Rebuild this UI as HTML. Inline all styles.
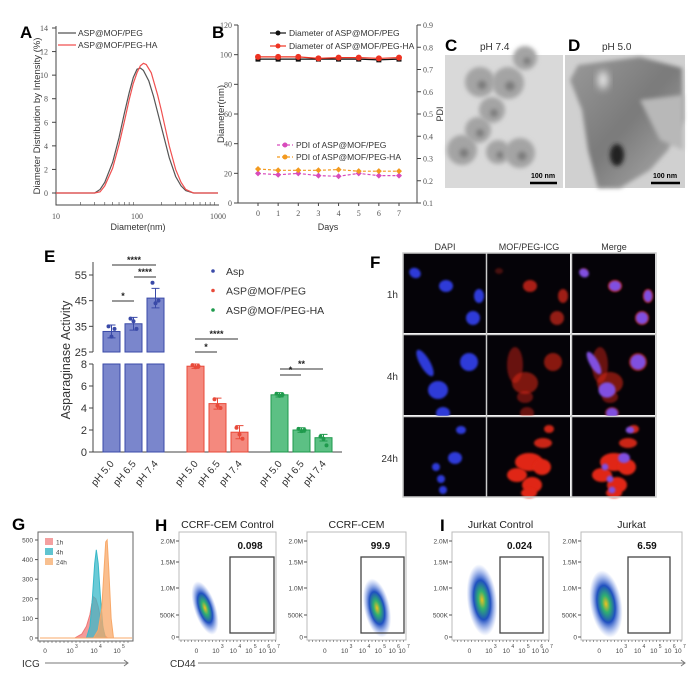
<!DOCTYPE html>
<html><head><meta charset="utf-8"><style>
html,body{margin:0;padding:0;background:#fff}
svg{display:block;font-family:"Liberation Sans",sans-serif}
</style></head><body>
<svg id="fig" width="700" height="683" viewBox="0 0 700 683" xmlns="http://www.w3.org/2000/svg">
<defs>
<filter id="bl2" x="-50%" y="-50%" width="200%" height="200%"><feGaussianBlur stdDeviation="2"/></filter>
<filter id="bl1" x="-50%" y="-50%" width="200%" height="200%"><feGaussianBlur stdDeviation="1"/></filter>
<filter id="bl4" x="-50%" y="-50%" width="200%" height="200%"><feGaussianBlur stdDeviation="4"/></filter>
<radialGradient id="flow"><stop offset="0" stop-color="#f0c020"/><stop offset="0.25" stop-color="#30b070"/><stop offset="0.55" stop-color="#2050c0"/><stop offset="1" stop-color="#7090e8" stop-opacity="0"/></radialGradient>
<linearGradient id="dbg" x1="0" y1="0" x2="1" y2="1"><stop offset="0" stop-color="#9a9a9a"/><stop offset="0.5" stop-color="#7a7a7a"/><stop offset="1" stop-color="#b0b0b0"/></linearGradient>
</defs>
</svg>
<script>
// ---------- DATA ----------
const aDiamPEG   = [10,20,30,35,40,50,60,70,80,90,100,110,120,140,160,200,250,300,350,400,500,1000];
const aIntPEG    = [0,0,0,0.3,0.9,2.6,4.7,6.8,8.5,9.8,10.5,10.6,10.4,9.5,8.2,5.6,3.0,1.4,0.6,0.2,0,0];
const aDiamHA    = [10,20,30,35,40,50,60,70,80,90,100,110,120,130,150,180,200,250,300,350,400,500,1000];
const aIntHA     = [0,0,0,0.1,0.6,2.1,4.1,6.1,7.9,9.3,10.2,10.8,11.0,10.9,10.2,8.3,7.0,4.0,2.0,0.9,0.3,0,0];
const aYTicks    = [0,2,4,6,8,10,12,14];
const aXTicks    = [10,100,1000];
const bDays      = [0,1,2,3,4,5,6,7];
const bDiamPEG   = [97,97,97,97,97,97,96.5,97];
const bDiamHA    = [98.5,98.5,98.5,97.5,98,98,97.5,98];
const bPdiPEG    = [0.233,0.227,0.233,0.223,0.22,0.233,0.223,0.223];
const bPdiHA     = [0.253,0.247,0.247,0.247,0.25,0.243,0.243,0.243];
const bLeftTicks = [0,20,40,60,80,100,120];
const bRightTicks= [0.1,0.2,0.3,0.4,0.5,0.6,0.7,0.8,0.9];
const eGroups    = ["Asp","ASP@MOF/PEG","ASP@MOF/PEG-HA"];
const eLabels    = ["pH 5.0","pH 6.5","pH 7.4"];
const eAsp       = [33,36,46];
const ePEG       = [7.8,4.4,1.8];
const eHA        = [5.2,2.0,1.3];
const eAspSd     = [2.5,2.5,3.8];
const ePEGSd     = [0.2,0.5,0.6];
const eHASd      = [0.2,0.2,0.3];
const eAspPts    = [[35,31,34],[38,37,34],[52,44,45]];
const ePEGPts    = [[7.9,7.7,7.8],[4.8,4.2,4.0],[2.2,1.6,1.2]];
const eHAPts     = [[5.3,5.1,5.2],[2.1,1.9,2.0],[1.4,1.2,0.6]];
const eUpperTicks= [25,35,45,55];
const eLowerTicks= [0,2,4,6,8];
const gLog1h  = [3.2,3.5,3.7,3.85,3.95,4.0,4.1,4.2,4.3,4.4,4.5,4.6];
const gCnt1h  = [0,20,60,120,190,210,200,160,100,50,10,0];
const gLog4h  = [3.7,3.85,3.95,4.05,4.12,4.2,4.3,4.4,4.5];
const gCnt4h  = [0,60,200,380,450,380,200,60,0];
const gLog24h = [4.0,4.2,4.35,4.45,4.52,4.58,4.65,4.75,4.85];
const gCnt24h = [0,40,150,350,490,500,350,100,0];
const gYTicks = [0,100,200,300,400,500];
const flowTitles = ["CCRF-CEM  Control","CCRF-CEM","Jurkat  Control","Jurkat"];
const flowValues = ["0.098","99.9","0.024","6.59"];
const flowYTicks = ["0","500K","1.0M","1.5M","2.0M"];

const NS="http://www.w3.org/2000/svg";
const svg=document.getElementById('fig');
function mk(tag,attrs,parent){const e=document.createElementNS(NS,tag);for(const k in attrs)e.setAttribute(k,attrs[k]);(parent||svg).appendChild(e);return e;}
function txt(s,x,y,size,opts,parent){const o=Object.assign({x:x,y:y,'font-size':size,fill:'#222'},opts||{});const t=mk('text',o,parent);t.textContent=s;return t;}
function lin(d0,d1,r0,r1){return v=>r0+(v-d0)*(r1-r0)/(d1-d0);}
let el;

// ---------- PANEL A ----------
const gA=mk('g',{});


const axL=v=>56+(Math.log10(v)-1)*81, ayS=lin(0,14,193,28);
el=txt('A',20,38,17,{'font-weight':'bold',fill:'#000'},gA);


el=mk('path',{d:'M56 26V205H219',fill:'none',stroke:'#444','stroke-width':1},gA);


aYTicks.forEach(v=>{mk('line',{x1:52,x2:56,y1:ayS(v),y2:ayS(v),stroke:'#444'},gA);
 el=txt(String(v),48,ayS(v)+3,8,{'text-anchor':'end','font-family':'Liberation Serif',fill:'#555'},gA);
 
 });
aXTicks.forEach(v=>{el=txt(String(v),axL(v),219,8,{'text-anchor':'middle','font-family':'Liberation Serif',fill:'#555'},gA);
 
 });
for(let d=1;d<3;d++)for(let m=2;m<10;m++){const x=axL(m*Math.pow(10,d));mk('line',{x1:x,x2:x,y1:205,y2:202,stroke:'#444','stroke-width':0.6},gA);}
el=txt('Diameter(nm)',138,230,9,{'text-anchor':'middle',fill:'#333'},gA);


el=txt('Diameter Distribution by Intensity (%)',0,0,9.5,{'text-anchor':'middle',fill:'#333',transform:'translate(40,116) rotate(-90)'},gA);


el=mk('polyline',{points:aDiamPEG.map((d,i)=>axL(d)+','+ayS(aIntPEG[i])).join(' '),fill:'none',stroke:'#555','stroke-width':1.2},gA);


el=mk('polyline',{points:aDiamHA.map((d,i)=>axL(d)+','+ayS(aIntHA[i])).join(' '),fill:'none',stroke:'#f05050','stroke-width':1.2},gA);


mk('line',{x1:58,x2:76,y1:33,y2:33,stroke:'#555','stroke-width':1.2},gA);
el=txt('ASP@MOF/PEG',78,36,8.5,{fill:'#333'},gA);


mk('line',{x1:58,x2:76,y1:45,y2:45,stroke:'#f05050','stroke-width':1.2},gA);
el=txt('ASP@MOF/PEG-HA',78,48,8.5,{fill:'#333'},gA);



// ---------- PANEL B ----------
const gB=mk('g',{});


const bx=lin(0,7,258,399), byL=lin(0,120,203,25), byR=lin(0.1,0.9,203,25);
el=txt('B',212,38,17,{'font-weight':'bold',fill:'#000'},gB);


el=mk('path',{d:'M238 25V203H417V25',fill:'none',stroke:'#444'},gB);


bLeftTicks.forEach(v=>{mk('line',{x1:234,x2:238,y1:byL(v),y2:byL(v),stroke:'#444'},gB);
 el=txt(String(v),232,byL(v)+3,8,{'text-anchor':'end','font-family':'Liberation Serif',fill:'#555'},gB);
 
 });
bRightTicks.forEach(v=>{mk('line',{x1:417,x2:421,y1:byR(v),y2:byR(v),stroke:'#444'},gB);
 el=txt(v.toFixed(1),423,byR(v)+3,8,{'font-family':'Liberation Serif',fill:'#555'},gB);
 
 });
bDays.forEach(v=>{mk('line',{x1:bx(v),x2:bx(v),y1:203,y2:206,stroke:'#444'},gB);
 el=txt(String(v),bx(v),216,8,{'text-anchor':'middle','font-family':'Liberation Serif',fill:'#555'},gB);
 
 });
el=txt('Days',328,230,9,{'text-anchor':'middle',fill:'#333'},gB);


el=txt('Diameter(nm)',0,0,9.5,{'text-anchor':'middle',fill:'#333',transform:'translate(224,114) rotate(-90)'},gB);


el=txt('PDI',0,0,9,{'text-anchor':'middle',fill:'#333',transform:'translate(443,114) rotate(-90)'},gB);


function bSeries(vals,sc,col,dash,shape,name){
 const g=mk('g',{},gB);
 
 
 mk('polyline',{points:bDays.map((d,i)=>bx(d)+','+sc(vals[i])).join(' '),fill:'none',stroke:col,'stroke-width':1.2,'stroke-dasharray':dash},g);
 bDays.forEach((d,i)=>{const x=bx(d),y=sc(vals[i]);
  if(shape==='sq')el=mk('rect',{x:x-2.5,y:y-2.5,width:5,height:5,fill:col},g);
  else if(shape==='c')el=mk('circle',{cx:x,cy:y,r:3,fill:col},g);
  else el=mk('path',{d:`M${x} ${y-3}L${x+3} ${y}L${x} ${y+3}L${x-3} ${y}Z`,fill:col},g);
  
  });
}
bSeries(bDiamPEG,byL,'#111','','sq','series-diameter-peg');
bSeries(bDiamHA,byL,'#ee3322','','c','series-diameter-peg-ha');
bSeries(bPdiPEG,byR,'#d84cbc','3,2','d','series-pdi-peg');
bSeries(bPdiHA,byR,'#f39a1f','3,2','d','series-pdi-peg-ha');
[['Diameter of ASP@MOF/PEG','#111',33,''],['Diameter of ASP@MOF/PEG-HA','#ee3322',46,''],['PDI of ASP@MOF/PEG','#d84cbc',145,'3,2'],['PDI of ASP@MOF/PEG-HA','#f39a1f',157,'3,2']].forEach(l=>{
 const x0=l[2]>100?277:270;
 mk('line',{x1:x0,x2:x0+16,y1:l[2],y2:l[2],stroke:l[1],'stroke-width':1.2,'stroke-dasharray':l[3]},gB);
 mk('circle',{cx:x0+8,cy:l[2],r:2.5,fill:l[1]},gB);
 el=txt(l[0],x0+19,l[2]+3,8.5,{fill:'#333'},gB);
 
 });

// ---------- PANELS C & D ----------
const gC=mk('g',{});


el=txt('C',445,51,17,{'font-weight':'bold',fill:'#000'},gC);


el=txt('pH 7.4',480,50,10,{fill:'#333'},gC);


mk('rect',{x:445,y:55,width:118,height:133,fill:'#d9d9d9'},gC);
[[480,82,15],[508,83,16],[492,110,13],[478,130,13],[462,150,15],[498,152,12],[520,153,15],[525,58,12]].forEach(c=>{
 mk('circle',{cx:c[0],cy:c[1],r:c[2],fill:'#a4a4a4',filter:'url(#bl2)'},gC);
 mk('circle',{cx:c[0]+2,cy:c[1]+3,r:c[2]*0.3,fill:'#7c7c7c',filter:'url(#bl2)'},gC);});
mk('line',{x1:530,x2:557,y1:183,y2:183,stroke:'#000','stroke-width':2.5},gC);
txt('100 nm',543,178,7,{'text-anchor':'middle','font-weight':'bold',fill:'#000'},gC);
const gD=mk('g',{});


el=txt('D',568,51,17,{'font-weight':'bold',fill:'#000'},gD);


el=txt('pH 5.0',602,50,10,{fill:'#333'},gD);


mk('rect',{x:565,y:55,width:120,height:133,fill:'#d0d0d0'},gD);
mk('path',{d:'M578 65L640 57L682 68L683 120L668 150L650 170L620 188L598 188L588 150L582 110L570 80Z',fill:'url(#dbg)',filter:'url(#bl2)'},gD);
mk('path',{d:'M640 100L683 95L683 150L660 140Z',fill:'#b8b8b8',filter:'url(#bl2)'},gD);
mk('ellipse',{cx:617,cy:155,rx:7,ry:11,fill:'#222',filter:'url(#bl2)'},gD);
mk('ellipse',{cx:603,cy:80,rx:5,ry:9,fill:'#eaeaea',filter:'url(#bl4)'},gD);
mk('line',{x1:651,x2:680,y1:183,y2:183,stroke:'#000','stroke-width':2.5},gD);
txt('100 nm',665,178,7,{'text-anchor':'middle','font-weight':'bold',fill:'#000'},gD);

// ---------- PANEL E ----------
const gE=mk('g',{});


const eyU=lin(25,55,352,275), eyL=lin(0,8,452,364);
el=txt('E',44,262,17,{'font-weight':'bold',fill:'#000'},gE);


mk('path',{d:'M93 262V352M93 364V452H342',fill:'none',stroke:'#444'},gE);
eUpperTicks.forEach(v=>{mk('line',{x1:89,x2:93,y1:eyU(v),y2:eyU(v),stroke:'#444'},gE);
 el=txt(String(v),87,eyU(v)+4,11,{'text-anchor':'end',fill:'#333'},gE);
 
 });
eLowerTicks.forEach(v=>{mk('line',{x1:89,x2:93,y1:eyL(v),y2:eyL(v),stroke:'#444'},gE);
 el=txt(String(v),87,eyL(v)+4,11,{'text-anchor':'end',fill:'#333'},gE);
 
 });
el=txt('Asparaginase Activity',0,0,12.5,{'text-anchor':'middle',fill:'#333',transform:'translate(70,360) rotate(-90)'},gE);


const eGroupX=[103,187,271], barW=17, barGap=22;
const eCols=[['#7a86cc','#3a4aa8'],['#f4897e','#e84a3a'],['#5cc084','#1e9a4c']];
const eVals=[eAsp,ePEG,eHA], eSds=[eAspSd,ePEGSd,eHASd], ePts=[eAspPts,ePEGPts,eHAPts];
function eY(v,broken){return broken? eyU(v): eyL(v);}
eVals.forEach((vals,gi)=>{
 const broken=gi===0;
 vals.forEach((v,bi)=>{
  const x=eGroupX[gi]+bi*barGap, cx=x+barW/2;
  if(broken){
   el=mk('rect',{x:x,y:eyL(8),width:barW,height:eyL(0)-eyL(8),fill:eCols[gi][0],stroke:eCols[gi][1]},gE);
   
   
   el=mk('rect',{x:x,y:eyU(v),width:barW,height:352-eyU(v),fill:eCols[gi][0],stroke:eCols[gi][1]},gE);
  } else el=mk('rect',{x:x,y:eyL(v),width:barW,height:eyL(0)-eyL(v),fill:eCols[gi][0],stroke:eCols[gi][1]},gE);
  
  
  const sd=eSds[gi][bi];
  mk('path',{d:`M${cx} ${eY(v-sd,broken)}V${eY(v+sd,broken)}M${cx-4} ${eY(v+sd,broken)}H${cx+4}M${cx-4} ${eY(v-sd,broken)}H${cx+4}`,stroke:eCols[gi][1],fill:'none'},gE);
  ePts[gi][bi].forEach((p,k)=>{el=mk('circle',{cx:cx-3+k*3,cy:eY(p,broken),r:2,fill:eCols[gi][1]},gE);
   
   });
  el=txt(eLabels[bi],cx+3,464,10,{'text-anchor':'end',fill:'#333',transform:`rotate(-50 ${cx+3} 464)`},gE);
  
  
 });
});
[[112,156,265,'****'],[134,156,277,'****'],[112,134,301,'*'],[195,238,339,'****'],[195,217,352,'*'],[280,323,369,'**'],[280,301,375,'*']].forEach(s=>{
 mk('line',{x1:s[0],x2:s[1],y1:s[2],y2:s[2],stroke:'#333'},gE);
 el=txt(s[3],(s[0]+s[1])/2,s[2]-2,9,{'text-anchor':'middle','font-weight':'bold',fill:'#222'},gE);
 
 });
eGroups.forEach((g,i)=>{const y=271+i*19.5;
 mk('circle',{cx:213,cy:y,r:1.8,fill:eCols[i][1]},gE);
 el=txt(g,226,y+4,10.5,{fill:'#333'},gE);
 
 });

// ---------- PANEL F ----------
const gF=mk('g',{});


el=txt('F',370,268,17,{'font-weight':'bold',fill:'#000'},gF);


const fCols=[403,487,572], fRows=[253,335,417];
['DAPI','MOF/PEG-ICG','Merge'].forEach((s,i)=>{el=txt(s,fCols[i]+42,250,9,{'text-anchor':'middle',fill:'#333'},gF);
 
 });
['1h','4h','24h'].forEach((s,i)=>{el=txt(s,398,fRows[i]+45,10,{'text-anchor':'end',fill:'#333'},gF);
 
 });
// [x, y, rx, ry, rotation]
const cells=[
 [[12,20,6,5,30],[43,33,7,6,0],[76,43,5,7,0],[70,65,7,7,0]],
 [[22,28,5,15,-30],[35,55,10,9,0],[40,78,7,6,0],[66,27,9,9,0]],
 [[58,13,5,4,0],[52,41,7,6,0],[33,50,4,4,0],[38,62,4,4,0],[40,73,4,4,0]]];
const redBlobs=[
 [[43,33,7,6,0.75],[76,43,5,7,0.7],[70,65,7,7,0.65],[12,18,4,3,0.3]],
 [[28,30,8,18,0.45],[38,48,13,11,0.55],[38,62,8,6,0.45],[66,27,9,9,0.6],[40,78,7,6,0.45]],
 [[62,12,5,4,0.9],[56,26,9,5,0.9],[42,45,14,9,1],[55,50,9,8,1],[30,58,10,7,1],[45,68,10,8,1],[42,76,8,5,1]]];
fRows.forEach((ry,r)=>fCols.forEach((cx,c)=>{
 el=mk('rect',{x:cx,y:ry,width:83,height:80,fill:'#050308'},gF);
 
 
 if(c!==0)redBlobs[r].forEach(b=>mk('ellipse',{cx:cx+b[0],cy:ry+b[1],rx:b[2],ry:b[3],fill:'#e02818','fill-opacity':b[4],filter:'url(#bl1)'},gF));
 if(c!==1)cells[r].forEach(b=>mk('ellipse',{cx:cx+b[0],cy:ry+b[1],rx:b[2]*(c===2?0.85:1),ry:b[3]*(c===2?0.85:1),fill:c===2?'#8050e0':'#2e3ad8',transform:`rotate(${b[4]} ${cx+b[0]} ${ry+b[1]})`,filter:'url(#bl1)'},gF));
}));
mk('path',{d:'M486.5 253V497M571.5 253V497M403 334.5H656M403 416.5H656',stroke:'#ccc','stroke-width':1.5},gF);
mk('rect',{x:403,y:253,width:253,height:244,fill:'none',stroke:'#ccc','stroke-width':1.5},gF);

// ---------- PANEL G ----------
const gG=mk('g',{});


const gx=lin(3,5,70,117), gy=lin(0,500,638,540);
el=txt('G',12,530,17,{'font-weight':'bold',fill:'#000'},gG);


mk('rect',{x:38,y:532,width:95,height:109,fill:'none',stroke:'#666'},gG);
gYTicks.forEach(v=>{mk('line',{x1:35,x2:38,y1:gy(v),y2:gy(v),stroke:'#555'},gG);
 el=txt(String(v),33,gy(v)+2.5,6.5,{'text-anchor':'end',fill:'#444'},gG);
 
 });
[[gLog1h,gCnt1h,'#f07878','hist-1h'],[gLog4h,gCnt4h,'#38b8c8','hist-4h'],[gLog24h,gCnt24h,'#f8a868','hist-24h']].forEach(s=>{
 el=mk('polygon',{points:s[0].map((l,i)=>gx(l)+','+gy(s[1][i])).join(' '),fill:s[2],'fill-opacity':0.75,stroke:s[2]},gG);
 
 });
mk('line',{x1:40,x2:132,y1:638,y2:638,stroke:'#f8a868'},gG);
[['1h','#f4a0a0',542],['4h','#60c4d0',552],['24h','#f8c090',562]].forEach(l=>{
 mk('rect',{x:45,y:l[2]-4,width:8,height:7,fill:l[1]},gG);
 el=txt(l[0],56,l[2]+2.5,6.5,{fill:'#444'},gG);
 
 });
[['0',45,''],['10',70,'3'],['10',94,'4'],['10',117,'5']].forEach(t=>{
 el=txt(t[0],t[1],653,6.5,{'text-anchor':'middle',fill:'#444'},gG);
 
 
 if(t[2])txt(t[2],t[1]+5,648,5,{fill:'#444'},gG);});
for(let x=40;x<132;x+=4)mk('line',{x1:x,x2:x,y1:641,y2:643,stroke:'#555','stroke-width':0.6},gG);
el=txt('ICG',22,667,10,{fill:'#333'},gG);


mk('path',{d:'M45 663H128M124 660L128 663L124 666',fill:'none',stroke:'#777'},gG);

// ---------- PANELS H & I ----------
const gH=mk('g',{});


el=txt('H',155,531,17,{'font-weight':'bold',fill:'#000'},gH);


el=txt('I',440,531,17,{'font-weight':'bold',fill:'#000'},gH);


const boxes=[[179,276,230,274],[307,406,361,404],[452,549,500,543],[581,682,628,670]];
const clouds=[[205,608,11,28,-0.3],[377,608,13,30,-0.2],[482,600,15,36,-0.1],[606,604,16,34,-0.15]];
const fyTickY=[637,615,588,562,541];
boxes.forEach((b,i)=>{
 const g=mk('g',{},gH);
 
 
 mk('rect',{x:b[0],y:532,width:b[1]-b[0],height:108,fill:'#fff',stroke:'#bbb'},g);
 el=txt(flowTitles[i],(b[0]+b[1])/2,528,10.5,{'text-anchor':'middle',fill:'#222'},g);
 
 
 flowYTicks.forEach((t,k)=>{mk('line',{x1:b[0]-3,x2:b[0],y1:fyTickY[k],y2:fyTickY[k],stroke:'#555'},g);
  el=txt(t,b[0]-4,fyTickY[k]+2.5,6.5,{'text-anchor':'end',fill:'#444'},g);
  
  });
 const c=clouds[i];
 el=mk('ellipse',{cx:c[0],cy:c[1],rx:c[2],ry:c[3],fill:'url(#flow)',transform:`rotate(${c[4]*60} ${c[0]} ${c[1]})`},g);
 
 
 el=mk('rect',{x:b[2],y:557,width:b[3]-b[2],height:76,fill:'none',stroke:'#444','stroke-width':1.3},g);
 
 
 el=txt(flowValues[i],(b[2]+b[3])/2-2,549,10,{'text-anchor':'middle','font-weight':'bold',fill:'#111'},g);
 
 
 for(let x=b[0]+2;x<b[1];x+=3.5)mk('line',{x1:x,x2:x,y1:640,y2:642,stroke:'#555','stroke-width':0.6},g);
 const w=b[1]-b[0];
 [['0',0.18,''],['10',0.38,'3'],['10',0.56,'4'],['10',0.72,'5'],['10',0.86,'6'],['10',0.96,'7']].forEach(t=>{
  txt(t[0],b[0]+w*t[1],653,6.5,{'text-anchor':'middle',fill:'#444'},g);
  if(t[2])txt(t[2],b[0]+w*t[1]+5,648,5,{fill:'#444'},g);});
});
el=txt('CD44',170,667,10,{fill:'#333'},gH);


mk('path',{d:'M198 663H685M681 660L685 663L681 666',fill:'none',stroke:'#777'},gH);
</script>
</body></html>
